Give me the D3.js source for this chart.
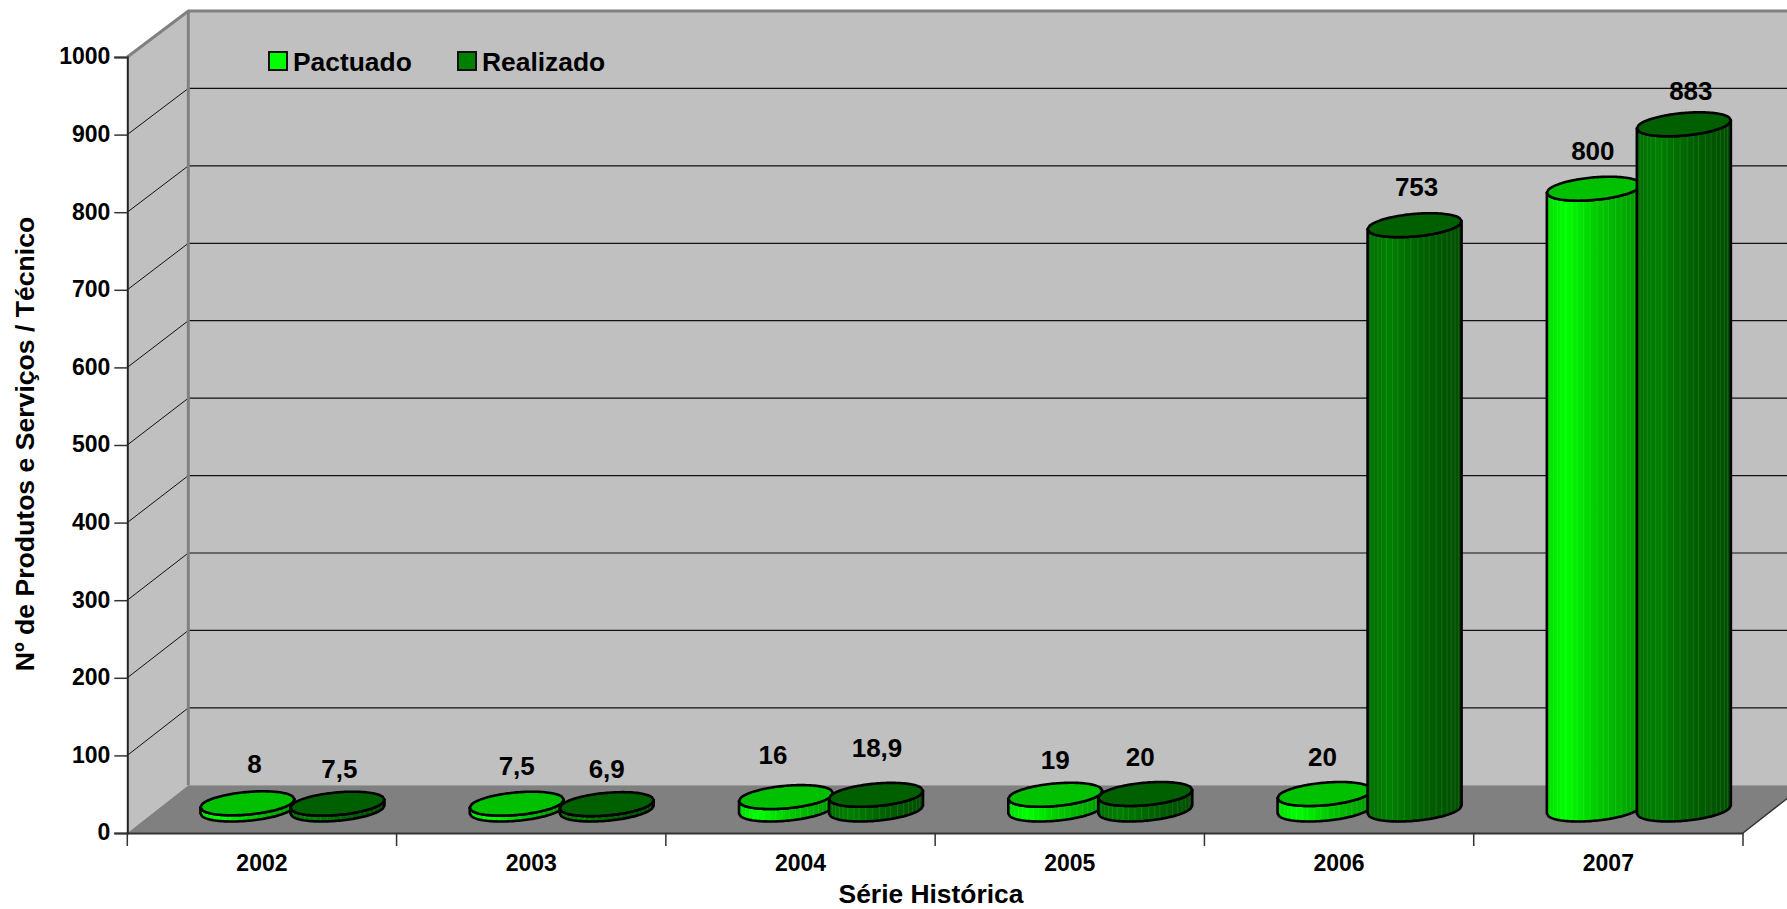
<!DOCTYPE html>
<html><head><meta charset="utf-8">
<script src="https://cdn.jsdelivr.net/npm/d3@7/dist/d3.min.js"></script>
<style>html,body{margin:0;padding:0;background:#fff;overflow:hidden}svg{display:block}text{font-family:"Liberation Sans",Arial,sans-serif;font-weight:bold;fill:#000}</style>
</head><body><svg id="c" width="1787" height="909"></svg>
<script>
const categories = ["2002","2003","2004","2005","2006","2007"];
const pactuado  = [8, 7.5, 16, 19, 20, 800];
const realizado = [7.5, 6.9, 18.9, 20, 753, 883];
const pactuadoLabels  = ["8","7,5","16","19","20","800"];
const realizadoLabels = ["7,5","6,9","18,9","20","753","883"];
const yTicks = d3.range(0, 1001, 100);

// layout (hand-placed label nudges, in px)
const pactNudge = [[7,-40],[0,-38],[-13,-42],[0,-35],[-2,-37],[-1,-38]];
const realNudge = [[2,-35],[0,-36],[1,-47],[-5,-37],[2,-39],[7,-34]];
const W = 1787, H = 909, left = 127.3, right = 1743, y0 = 833, y1000 = 57, dx = 61, dy = 47;
const rx = 47, tilt = 4, ry = 11.3, gap = 45;
const stripes = [-.93,-.86,-.78,-.7,-.6,-.47,-.36,-.22,-.08,.07,.2,.31,.46,.58,.69,.78,.86,.93];

const svg = d3.select("#c");
const x = d3.scaleBand().domain(categories).range([left, right]);
const y = d3.scaleLinear().domain([0, 1000]).range([y0, y1000]);
const yBack = d3.scaleLinear().domain([0, 1000]).range([785.3, 11]);

const defs = svg.append("defs");
function grad(id, stops){
  const g = defs.append("linearGradient").attr("id", id).attr("x1",0).attr("x2",1).attr("y1",0).attr("y2",0);
  stops.forEach(s => g.append("stop").attr("offset", s[0]).attr("stop-color", s[1]));
}
grad("gp", [[0,"#00dc00"],[.2,"#00ff00"],[.55,"#00c800"],[1,"#009800"]]);
grad("gr", [[0,"#006c00"],[.22,"#008000"],[.6,"#006000"],[1,"#004e00"]]);

// walls and floor
const wall = svg.append("g");
wall.append("rect").attr("x", left+dx).attr("y", yBack(1000)).attr("width", W).attr("height", yBack(0)-yBack(1000)).attr("fill","#c0c0c0");
wall.append("polygon").attr("points",[[left,y(1000)],[left+dx,yBack(1000)],[left+dx,yBack(0)],[left,y0]].join(" ")).attr("fill","#c0c0c0");
wall.append("polygon").attr("points",[[left,y0],[left+dx,yBack(0)],[right+dx,yBack(0)],[right,y0]].join(" ")).attr("fill","#808080");

// gridlines
yTicks.filter(v => v>0 && v<1000).forEach(v => {
  wall.append("line").attr("x1",left+dx).attr("x2",W).attr("y1",yBack(v)).attr("y2",yBack(v)).attr("stroke","#111").attr("stroke-width",1.2);
  wall.append("line").attr("x1",left).attr("x2",left+dx).attr("y1",y(v)).attr("y2",yBack(v)).attr("stroke","#111").attr("stroke-width",1);
});
// wall frame
wall.append("path").attr("d",`M${left},${y(1000)}L${left+dx},${yBack(1000)}H${W}`).attr("fill","none").attr("stroke","#808080").attr("stroke-width",3);
wall.append("line").attr("x1",left+dx).attr("x2",left+dx).attr("y1",yBack(1000)).attr("y2",yBack(0)).attr("stroke","#808080").attr("stroke-width",3);
wall.append("line").attr("x1",right).attr("x2",right+dx).attr("y1",y0).attr("y2",yBack(0)).attr("stroke","#333").attr("stroke-width",1.5);

// axes
const yAxis = svg.append("g").attr("transform",`translate(${left},0)`)
  .call(d3.axisLeft(y).tickValues(yTicks).tickSize(13).tickPadding(4).tickFormat(d3.format("d")));
yAxis.select(".domain").attr("stroke","#222").attr("stroke-width",2);
yAxis.selectAll("line").attr("stroke","#333").attr("stroke-width",1.5);
yAxis.selectAll("text").style("font-size","23px").attr("font-family",null).attr("dy","0.3em");

const xAxis = svg.append("g").attr("transform",`translate(0,${y0})`)
  .call(d3.axisBottom(x).tickSize(0).tickPadding(22));
xAxis.select(".domain").attr("stroke","#333").attr("stroke-width",2);
xAxis.selectAll("text").style("font-size","23px").attr("dy","0.71em");
categories.concat("end").forEach((c,i) => {
  const px = left + i*x.bandwidth();
  xAxis.append("line").attr("x1",px).attr("x2",px).attr("y1",0).attr("y2",13).attr("stroke","#333").attr("stroke-width",1.5);
});

// cylinders
const ellipseY = (cy,f,sign) => cy - tilt*f + sign*ry*Math.sqrt(Math.max(0,1-f*f));
const arcLine = d3.line();
function cylinder(g, cx, value, fillGrad, topFill){
  const cyB = y(0) - dy/2, cyT = y(value) - dy/2;
  const fs = d3.range(-1, 1.0001, 0.04);
  const lower = fs.map(f => [cx+rx*f, ellipseY(cyB,f,1)]);
  const topLower = fs.map(f => [cx+rx*f, ellipseY(cyT,f,1)]).reverse();
  const topUpper = fs.map(f => [cx+rx*f, ellipseY(cyT,f,-1)]);
  g.append("path").attr("d", arcLine(lower.concat(topLower))+"Z").attr("fill",`url(#${fillGrad})`);
  stripes.forEach(f => g.append("line")
    .attr("x1",cx+rx*f).attr("x2",cx+rx*f)
    .attr("y1",ellipseY(cyT,f,1)).attr("y2",ellipseY(cyB,f,1))
    .attr("stroke","#fff").attr("stroke-opacity",.1).attr("stroke-width",1));
  g.append("path").attr("d", arcLine(lower.concat(topLower))+"Z").attr("fill","none").attr("stroke","#000").attr("stroke-width",2.6).attr("stroke-linejoin","round");
  g.append("path").attr("d", arcLine(topUpper.concat(topLower))+"Z").attr("fill",topFill).attr("stroke","#000").attr("stroke-width",2.6).attr("stroke-linejoin","round");
}
const bars = svg.append("g");
categories.forEach((c,i) => {
  const mid = x(c) + x.bandwidth()/2 + dx/2;
  cylinder(bars.append("g"), mid-gap, pactuado[i], "gp", "#00c000");
  cylinder(bars.append("g"), mid+gap, realizado[i], "gr", "#006000");
});

// value labels
const labels = svg.append("g").style("font-size","26px").attr("text-anchor","middle");
categories.forEach((c,i) => {
  const mid = x(c) + x.bandwidth()/2 + dx/2;
  labels.append("text").attr("x",mid-gap+pactNudge[i][0]).attr("y",y(pactuado[i])-dy/2+pactNudge[i][1]).attr("dy","0.36em").text(pactuadoLabels[i]);
  labels.append("text").attr("x",mid+gap+realNudge[i][0]).attr("y",y(realizado[i])-dy/2+realNudge[i][1]).attr("dy","0.36em").text(realizadoLabels[i]);
});

// legend
const series = ["Pactuado","Realizado"], legendX = [269,458], legendFill = ["#00ff00","#008000"];
series.forEach((s,i) => {
  svg.append("rect").attr("x",legendX[i]).attr("y",52).attr("width",18).attr("height",18).attr("fill",legendFill[i]).attr("stroke","#111").attr("stroke-width",2);
  svg.append("text").attr("x",legendX[i]+24).attr("y",61).attr("dy","0.36em").style("font-size","26.4px").text(s);
});

// axis titles
svg.append("text").attr("x",931).attr("y",903.3).attr("text-anchor","middle").style("font-size","26.4px").text("Série Histórica");
svg.append("text").attr("transform","translate(24,444) rotate(-90)").attr("text-anchor","middle").attr("dy","0.36em").style("font-size","26.6px").text("Nº de Produtos e Serviços / Técnico");
</script></body></html>
